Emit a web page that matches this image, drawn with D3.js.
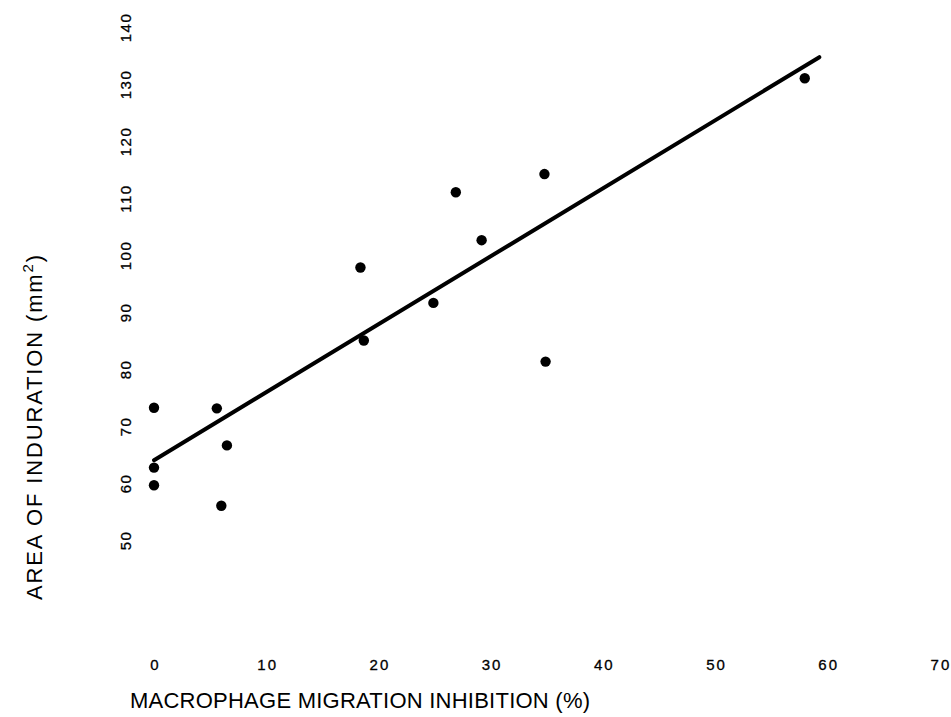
<!DOCTYPE html>
<html lang="en">
  <meta charset="UTF-8" />
  <title>Induration vs migration inhibition</title>
  <style>
    body { margin: 0; background: #fff; }
    svg { display: block; }
    text { font-family: "Liberation Sans", Arial, sans-serif; fill: #000; }
  </style>
  <script src="https://d3js.org/d3.v7.min.js"></script>
  <body>
    <div id="chart"></div>
    <script>
      // values
      let inhibition = [0, 0, 0, 5.6, 6.5, 6.0, 18.4, 18.7, 24.9, 26.9, 29.2, 34.8, 34.9, 58.0];
      let induration = [73.2, 62.7, 59.6, 73.1, 66.6, 56.0, 97.8, 85.0, 91.6, 111.0, 102.6, 114.2, 81.3, 131.0];
      let fitX = [0, 59.3];
      let fitY = [64.0, 134.7];
      let xTicks = [0, 10, 20, 30, 40, 50, 60, 70];
      let yTicks = [50, 60, 70, 80, 90, 100, 110, 120, 130, 140];

      var width = 951, height = 717;
      var svg = d3.select("#chart").append("svg")
        .attr("width", width)
        .attr("height", height);

      var x = d3.scaleLinear().domain([0, 70]).range([154, 939.4]);
      var y = d3.scaleLinear().domain([50, 140]).range([540, 27]);

      // x axis labels only, no line
      var xAxis = svg.append("g")
        .attr("transform", "translate(0,670)")
        .call(d3.axisBottom(x).tickValues(xTicks).tickSize(0).tickPadding(0));
      xAxis.select(".domain").remove();
      xAxis.selectAll("text")
        .attr("y", 0).attr("dy", 0)
        .attr("dx", "1px")
        .style("font-size", "15px")
        .style("letter-spacing", "2px")
        .style("stroke", "#000").style("stroke-width", 0.3)
        .attr("font-family", null);

      // y axis labels, turned on their side
      var yAxis = svg.append("g")
        .attr("transform", "translate(131,0)")
        .call(d3.axisLeft(y).tickValues(yTicks).tickSize(0).tickPadding(0));
      yAxis.select(".domain").remove();
      yAxis.selectAll("text")
        .attr("x", 0).attr("dy", 0)
        .attr("text-anchor", "middle")
        .attr("transform", "rotate(-90)")
        .style("font-size", "15px")
        .style("letter-spacing", "1.5px")
        .style("stroke", "#000").style("stroke-width", 0.3)
        .attr("font-family", null);

      // regression line
      var line = d3.line().x(d => x(d[0])).y(d => y(d[1]));
      svg.append("path")
        .datum(d3.zip(fitX, fitY))
        .attr("d", line)
        .attr("fill", "none")
        .attr("stroke", "#000")
        .attr("stroke-width", 4)
        .attr("stroke-linecap", "round");

      // points
      svg.append("g").selectAll("circle")
        .data(d3.zip(inhibition, induration))
        .enter().append("circle")
        .attr("cx", d => x(d[0]))
        .attr("cy", d => y(d[1]))
        .attr("r", 5.2)
        .attr("fill", "#000");

      // titles
      svg.append("text")
        .attr("x", 130).attr("y", 708)
        .attr("textLength", 460)
        .attr("lengthAdjust", "spacing")
        .style("font-size", "22px")
        .text("MACROPHAGE MIGRATION INHIBITION (%)");

      var yt = svg.append("text")
        .attr("transform", "translate(42,600) rotate(-90)")
        .attr("textLength", 345)
        .attr("lengthAdjust", "spacing")
        .style("font-size", "22px");
      yt.append("tspan").text("AREA OF INDURATION (mm");
      yt.append("tspan").attr("dy", -9).style("font-size", "15px").text("2");
      yt.append("tspan").attr("dy", 9).text(")");
    </script>
  </body>
</html>
